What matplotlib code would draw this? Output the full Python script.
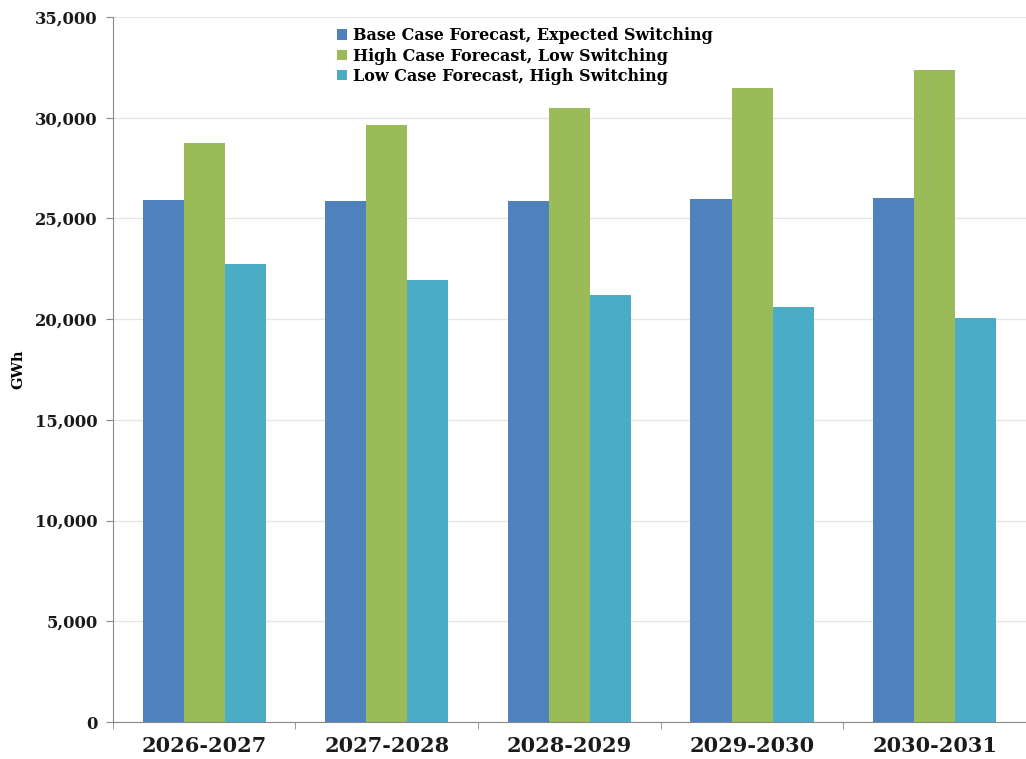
import matplotlib
matplotlib.use("Agg")
import matplotlib.pyplot as plt
from matplotlib.ticker import FuncFormatter, FixedLocator
import numpy as np

categories = ["2026-2027", "2027-2028", "2028-2029", "2029-2030", "2030-2031"]
series_names = ["Base Case Forecast, Expected Switching",
                "High Case Forecast, Low Switching",
                "Low Case Forecast, High Switching"]
base_case = [25900, 25880, 25860, 25980, 26020]
high_case = [28760, 29650, 30480, 31470, 32380]
low_case = [22750, 21960, 21220, 20620, 20050]
colors = ["#4F81BD", "#9BBB59", "#4BACC6"]

plt.rcParams['font.family'] = ['DejaVu Serif']
fig = plt.figure(figsize=(10.26, 7.59), dpi=100)
ax = fig.add_axes([0.110, 0.0487, 0.890, 0.929])

x = np.arange(len(categories))
w = 0.225
for i, (vals, name, c) in enumerate(zip([base_case, high_case, low_case], series_names, colors)):
    ax.bar(x + (i - 1) * w, vals, width=w, color=c, label=name, zorder=2)

ax.set_xlim(-0.5, len(categories) - 0.5)
ax.set_ylim(0, 35000)
ax.set_yticks(np.arange(0, 35001, 5000))
ax.yaxis.set_major_formatter(FuncFormatter(lambda v, p: f"{int(v):,}"))
ax.grid(axis='y', color='#e6e6e6', linewidth=1, zorder=0)
ax.set_xticks(x)
ax.set_xticklabels(categories)
ax.tick_params(axis='x', length=0, pad=10)
ax.xaxis.set_minor_locator(FixedLocator(np.arange(-0.5, len(categories), 1.0)))
ax.tick_params(axis='x', which='minor', length=5, color='#888888', direction='out')
ax.tick_params(axis='y', length=5, color='#888888', pad=6)
for lab in ax.get_xticklabels():
    lab.set_fontweight('bold')
    lab.set_fontsize(15)
    lab.set_color('#1a1a1a')
for lab in ax.get_yticklabels():
    lab.set_fontweight('bold')
    lab.set_fontsize(11.8)
    lab.set_color('#1a1a1a')
for s in ['top', 'right']:
    ax.spines[s].set_visible(False)
for s in ['left', 'bottom']:
    ax.spines[s].set_color('#888888')
ax.set_ylabel("GWh", fontsize=10.5, fontweight='bold', labelpad=7)

leg = ax.legend(loc='upper left', bbox_to_anchor=(0.234, 1.0), frameon=False,
                prop={'weight': 'bold', 'size': 11.5}, handlelength=0.65, handleheight=0.65,
                handletextpad=0.35, labelspacing=0.2, borderaxespad=0.25)

fig.savefig("out.png", dpi=100)
